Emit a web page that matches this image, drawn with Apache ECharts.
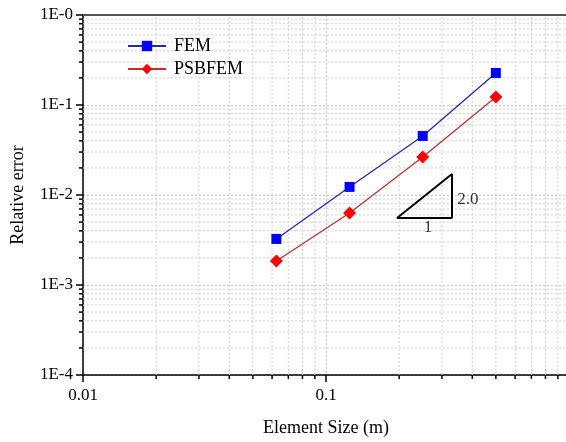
<!DOCTYPE html>
<html>
<head>
<meta charset="utf-8">
<script src="https://cdn.jsdelivr.net/npm/echarts@6/dist/echarts.min.js"></script>
<style>html,body{margin:0;padding:0;background:#fff}#c{width:566px;height:442px}</style>
</head>
<body>
<div id="c"></div>
<script>
// ---- data ----
var elementSize = [0.0625, 0.125, 0.25, 0.5];
var femError = [0.00325, 0.0123, 0.0453, 0.227];
var psbfemError = [0.00185, 0.0063, 0.0264, 0.1227];
var seriesNames = ['FEM', 'PSBFEM'];
var yTickLabels = ['1E-4', '1E-3', '1E-2', '1E-1', '1E-0'];
var slopeTriangle = [[0.196, 0.00555], [0.330, 0.00555], [0.330, 0.0171], [0.196, 0.00555]];
var slopeTexts = [[0.384, 0.0088, '2.0'], [0.263, 0.0043, '1']];
var xMinor = [];
[0.01, 0.1].forEach(function (d) { for (var k = 2; k <= 9; k++) xMinor.push(+(k * d).toPrecision(3)); });
var yMinor = [];
[0.0001, 0.001, 0.01, 0.1].forEach(function (d) { for (var k = 2; k <= 9; k++) yMinor.push(+(k * d).toPrecision(3)); });

var FONT = 'Liberation Serif';
var chart = echarts.init(document.getElementById('c'));

var gridData = [];
xMinor.forEach(function (v) { gridData.push([v, 0.0001, 0]); });
yMinor.forEach(function (v) { gridData.push([0.01, v, 1]); });

function pair(xs, ys) { return xs.map(function (x, i) { return [x, ys[i]]; }); }

var option = {
  animation: false,
  backgroundColor: '#fff',
  grid: { left: 83, width: 486, top: 15, bottom: 67, containLabel: false, outerBoundsMode: 'none' },
  legend: {
    orient: 'vertical', left: 122, top: 32, itemGap: 5,
    itemWidth: 38, itemHeight: 13,
    data: seriesNames,
    textStyle: { fontFamily: FONT, fontSize: 18, color: '#000', padding: [0, 0, 0, 3] }
  },
  xAxis: [{
    type: 'log', logBase: 10, min: 0.01, max: 1,
    name: 'Element Size (m)', nameLocation: 'middle', nameGap: 44,
    nameTextStyle: { fontFamily: FONT, fontSize: 18, color: '#000' },
    axisLine: { lineStyle: { color: '#000', width: 1.5 } },
    axisTick: { show: true, length: 7, lineStyle: { color: '#000', width: 1.5 } },
    axisLabel: {
      fontFamily: FONT, fontSize: 17, color: '#000', margin: 12,
      formatter: function (v) { return v >= 1 ? '' : String(+v.toPrecision(3)); }
    },
    splitLine: { show: true, lineStyle: { color: '#c8c8c8', type: [2, 2], width: 1 } }
  }, {
    type: 'log', logBase: 10, min: 0.01, max: 1, position: 'top',
    axisLine: { lineStyle: { color: '#555', width: 2 } },
    axisTick: { show: false }, axisLabel: { show: false }, splitLine: { show: false }
  }],
  yAxis: [{
    type: 'log', logBase: 10, min: 0.0001, max: 1,
    name: 'Relative error', nameLocation: 'middle', nameGap: 56,
    nameTextStyle: { fontFamily: FONT, fontSize: 18, color: '#000' },
    axisLine: { lineStyle: { color: '#000', width: 1.5 } },
    axisTick: { show: true, length: 7, lineStyle: { color: '#000', width: 1.5 } },
    axisLabel: {
      fontFamily: FONT, fontSize: 17, color: '#000', margin: 10,
      formatter: function (v) {
        var e = Math.round(Math.log10(v));
        return yTickLabels[e + 4];
      }
    },
    splitLine: { show: true, lineStyle: { color: '#c8c8c8', type: [2, 2], width: 1 } }
  }],
  series: [
    {
      type: 'custom', name: 'minorgrid', silent: true, z: 1, clip: false,
      data: gridData,
      renderItem: function (params, api) {
        var kind = api.value(2);
        var children = [];
        if (kind === 0) {
          var x = api.value(0);
          var p0 = api.coord([x, 0.0001]), p1 = api.coord([x, 1]);
          children.push({ type: 'line', shape: { x1: p0[0], y1: p0[1], x2: p1[0], y2: p1[1] },
            style: { stroke: '#d0d0d0', lineWidth: 1, lineDash: [2, 2] } });
          children.push({ type: 'line', shape: { x1: p0[0], y1: p0[1], x2: p0[0], y2: p0[1] + 4 },
            style: { stroke: '#000', lineWidth: 1.5 } });
        } else {
          var y = api.value(1);
          var q0 = api.coord([0.01, y]), q1 = api.coord([1, y]);
          children.push({ type: 'line', shape: { x1: q0[0], y1: q0[1], x2: q1[0], y2: q1[1] },
            style: { stroke: '#d0d0d0', lineWidth: 1, lineDash: [2, 2] } });
          children.push({ type: 'line', shape: { x1: q0[0] - 4, y1: q0[1], x2: q0[0], y2: q0[1] },
            style: { stroke: '#000', lineWidth: 1.5 } });
        }
        return { type: 'group', children: children };
      }
    },
    {
      name: seriesNames[0], type: 'line', z: 5,
      data: pair(elementSize, femError),
      symbol: 'rect', symbolSize: 10,
      itemStyle: { color: '#0000ff' },
      lineStyle: { color: '#2828a8', width: 1.3 }
    },
    {
      name: seriesNames[1], type: 'line', z: 5,
      data: pair(elementSize, psbfemError),
      symbol: 'diamond', symbolSize: 13,
      itemStyle: { color: '#ff0000' },
      lineStyle: { color: '#c03030', width: 1.3 }
    },
    {
      name: 'slope', type: 'line', z: 6, silent: true,
      data: slopeTriangle, symbol: 'none',
      lineStyle: { color: '#000', width: 2 }
    },
    {
      name: 'slopeText', type: 'scatter', z: 6, silent: true, symbolSize: 0,
      data: slopeTexts.map(function (t) { return { value: [t[0], t[1]], name: t[2] }; }),
      label: { show: true, position: 'inside', formatter: '{b}',
        fontFamily: FONT, fontSize: 17, color: '#000' }
    }
  ]
};
chart.setOption(option);
</script>
</body>
</html>
